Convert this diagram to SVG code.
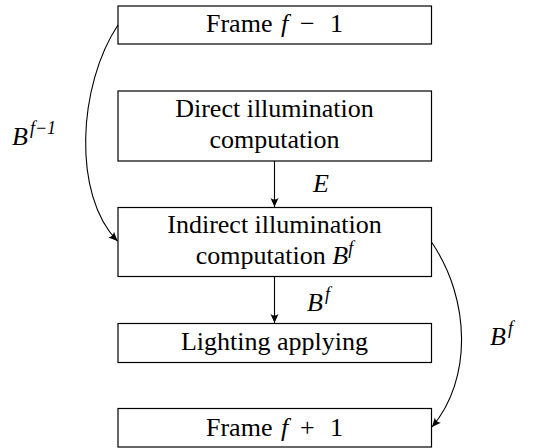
<svg xmlns="http://www.w3.org/2000/svg" width="534" height="448" viewBox="0 0 534 448">
<defs>
<marker id="arr" markerWidth="12" markerHeight="10" viewBox="-10 -5 12 10" refX="0" refY="0" orient="auto" markerUnits="userSpaceOnUse">
<path d="M0,0 L-9,-4 Q-6,0 -9,4 Z" fill="#000"/>
</marker>
<style>
.box{fill:#fff;stroke:#000;stroke-width:1.2}
.t{font-family:"Liberation Serif",serif;font-size:26px;fill:#000;text-anchor:middle}
.l{font-family:"Liberation Serif",serif;font-size:26px;fill:#000;text-anchor:start;font-style:italic}
.f{font-family:"Liberation Serif",serif;font-size:26px;fill:#000;text-anchor:start}
.m{font-style:italic}
.s{font-size:18px}
.c{fill:none;stroke:#000;stroke-width:1.1}
</style>
</defs>
<g id="frame-prev"><rect class="box" x="118" y="6" width="313.5" height="38"/><text class="f" x="206" y="32">Frame<tspan class="m" x="281">f</tspan><tspan x="300">−</tspan><tspan x="330">1</tspan></text></g>
<g id="direct"><rect class="box" x="118" y="91" width="313.5" height="70"/><text class="t" x="274.5" y="117">Direct illumination</text><text class="t" x="274.5" y="148">computation</text></g>
<g id="indirect"><rect class="box" x="118" y="207.5" width="313.5" height="69"/><text class="t" x="274.5" y="233">Indirect illumination</text><text class="t" x="274.5" y="264">computation <tspan class="m">B</tspan><tspan class="m s" dy="-10">f</tspan></text></g>
<g id="lighting"><rect class="box" x="118" y="323.5" width="313.5" height="39"/><text class="t" x="274.5" y="350">Lighting applying</text></g>
<g id="frame-next"><rect class="box" x="118" y="408.5" width="313.5" height="38.5"/><text class="f" x="206" y="436">Frame<tspan class="m" x="281">f</tspan><tspan x="300">+</tspan><tspan x="330">1</tspan></text></g>
<g id="connectors">
<path class="c" d="M274.5,161 L274.5,207" marker-end="url(#arr)"/>
<path class="c" d="M274.5,276.5 L274.5,323" marker-end="url(#arr)"/>
<path class="c" d="M118,25 C78,85 72,195 117.5,241" marker-end="url(#arr)"/>
<path class="c" d="M431.5,242 C471,300 472,380 432,427" marker-end="url(#arr)"/>
<text class="l" x="12" y="145">B<tspan class="s" dx="2" dy="-11">f−1</tspan></text>
<text class="l" x="313" y="192">E</text>
<text class="l" x="307" y="311">B<tspan class="s" dx="2" dy="-11">f</tspan></text>
<text class="l" x="490" y="345">B<tspan class="s" dx="2" dy="-11">f</tspan></text>
</g>
</svg>
